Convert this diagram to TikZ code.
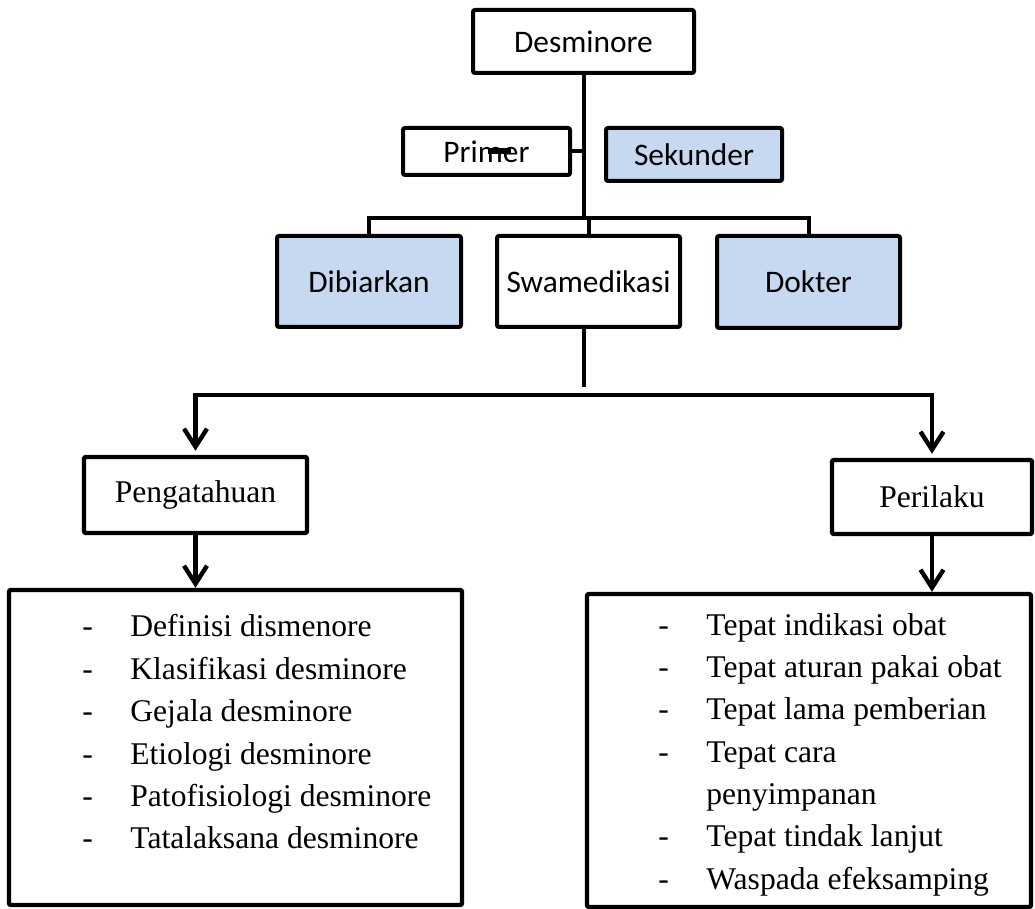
\documentclass[tikz,border=0pt]{standalone}
\usepackage{fontspec}
\setmainfont{Liberation Serif}
\newfontfamily\calibri{Carlito}
\usepackage{tikz}
\usetikzlibrary{arrows.meta,calc,positioning}

\definecolor{boxblue}{RGB}{198,217,240}

\begin{document}
\begin{tikzpicture}
[
	x		= 0.5pt,	% one unit is one pixel of the reference
	y		= -0.5pt,	% y runs downwards as in the reference
	topbox/.style	= {draw, line width=2pt, rounded corners=1pt, inner sep=0pt, font=\calibri\fontsize{15.7}{18}\selectfont},
	lowbox/.style	= {draw, line width=2.2pt, rounded corners=1pt, inner sep=0pt, font=\fontsize{15.8}{19}\selectfont},
	link/.style	= {line width=2pt},
	flow/.style	= {line width=2.2pt, -{Straight Barb[length=9pt,width=11.5pt,line width=2.2pt]}},
]

\useasboundingbox (0,0) rectangle (1035,909);

% upper part
\node [topbox, minimum width=110.5pt, minimum height=31.5pt] (desm) at (583.5,41.5) {Desminore};
\node [topbox, minimum width=83.5pt, minimum height=23.5pt] (primer) at (486.5,151.5) {Primer};
\node [topbox, fill=boxblue, minimum width=88pt, minimum height=26.5pt] (sekunder) at (694,154.5) {Sekunder};
\node [topbox, fill=boxblue, minimum width=92pt, minimum height=45.5pt] (dibiarkan) at (369,281.5) {Dibiarkan};
\node [topbox, minimum width=91.5pt, minimum height=45.5pt] (swamed) at (588.5,281.5) {Swamedikasi};
\node [topbox, fill=boxblue, minimum width=91.5pt, minimum height=46pt] (dokter) at (808.5,282) {Dokter};

\coordinate (bus) at (583.5,218);
\draw [link] (desm.south) -- (bus);
\draw [link] (primer.east) -- (primer.east -| desm.south);
\draw [link] (dibiarkan.north) |- (bus) -| (dokter.north);
\draw [link] (swamed.north) -- (swamed.north |- bus);
\draw [line width=3pt] (488,151.5) -- (511,151.5);

% lower part
\node [lowbox, minimum width=111.5pt, minimum height=38pt] (pengat) at (195.5,495) {Pengatahuan};
\node [lowbox, minimum width=100pt, minimum height=37pt] (perilaku) at (932,497) {Perilaku};
\node [lowbox, minimum width=226.5pt, minimum height=157.5pt] (listL) at (235.5,747.5) {};
\node [lowbox, minimum width=222pt, minimum height=156.5pt] (listR) at (809,750.5) {};

\node [anchor=base west, inner sep=0pt, font=\fontsize{15.8}{21.2}\selectfont] (itemsL) at (82,637)
	{\begin{tabular}[t]{@{}p{24pt}@{}l@{}}
	- & Definisi dismenore\\
	- & Klasifikasi desminore\\
	- & Gejala desminore\\
	- & Etiologi desminore\\
	- & Patofisiologi desminore\\
	- & Tatalaksana desminore
	\end{tabular}};
\node [anchor=base west, inner sep=0pt, font=\fontsize{15.8}{21.2}\selectfont] (itemsR) at (658,635)
	{\begin{tabular}[t]{@{}p{24pt}@{}l@{}}
	- & Tepat indikasi obat\\
	- & Tepat aturan pakai obat\\
	- & Tepat lama pemberian\\
	- & Tepat cara\\
	  & penyimpanan\\
	- & Tepat tindak lanjut\\
	- & Waspada efeksamping
	\end{tabular}};

\coordinate (split) at (583.5,387);
\coordinate (bus2) at (583.5,395);
\draw [link] (swamed.south -| split) -- (split);
\draw [flow, shorten >=2pt] (bus2) -| (pengat.north);
\draw [flow, shorten >=2pt] (bus2) -| (perilaku.north);
\draw [flow] (pengat.south) -- (pengat.south |- listL.north);
\draw [flow] (perilaku.south) -- (perilaku.south |- listR.north);

\end{tikzpicture}
\end{document}
